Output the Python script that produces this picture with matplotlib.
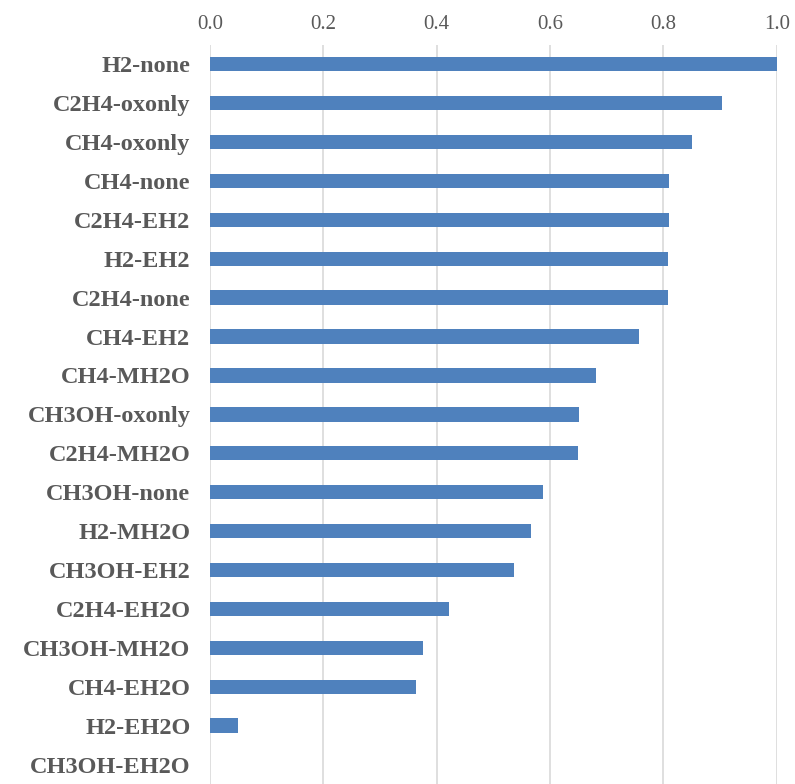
import matplotlib.pyplot as plt

labels = ["H2-none", "C2H4-oxonly", "CH4-oxonly", "CH4-none", "C2H4-EH2", "H2-EH2",
          "C2H4-none", "CH4-EH2", "CH4-MH2O", "CH3OH-oxonly", "C2H4-MH2O", "CH3OH-none",
          "H2-MH2O", "CH3OH-EH2", "C2H4-EH2O", "CH3OH-MH2O", "CH4-EH2O", "H2-EH2O",
          "CH3OH-EH2O"]
values = [1.0, 0.903, 0.850, 0.810, 0.810, 0.809, 0.808, 0.757, 0.681, 0.651, 0.649,
          0.588, 0.566, 0.536, 0.422, 0.376, 0.363, 0.049, 0.0]
xticks = [0.0, 0.2, 0.4, 0.6, 0.8, 1.0]

plt.rcParams['font.family'] = ['Liberation Serif', 'DejaVu Serif']

fig = plt.figure(figsize=(7.95, 7.84), dpi=100)
ax = fig.add_axes([0.264, 0.0, 0.713, 0.943])

pos = list(range(len(labels)))
ax.barh(pos, values, height=0.37, color='#4F81BD', linewidth=0, zorder=3)

ax.set_ylim(len(labels) - 0.5, -0.5)
ax.set_xlim(0, 1.0)
ax.set_yticks(pos)
ax.set_yticklabels(labels, fontsize=17.5, fontweight='bold', color='#595959')
ax.set_xticks(xticks)
ax.set_xticklabels([f"{t:.1f}" for t in xticks], fontsize=15, color='#595959')
ax.xaxis.tick_top()
ax.tick_params(axis='both', length=0)
ax.tick_params(axis='x', pad=8)
ax.tick_params(axis='y', pad=14)
ax.grid(axis='x', color='#D9D9D9', linewidth=1.2, zorder=0)
for s in ax.spines.values():
    s.set_visible(False)

fig.savefig("out.png", dpi=100)
